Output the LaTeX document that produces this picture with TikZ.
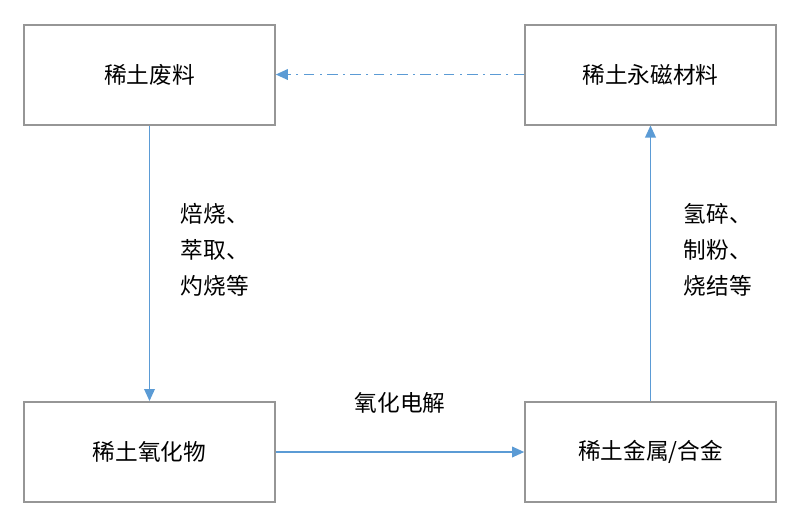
\documentclass[tikz,border=0pt]{standalone}
\usepackage{fontspec}
\setmainfont{Noto Sans CJK SC}
\usetikzlibrary{arrows.meta}
\definecolor{ln}{RGB}{91,155,213}
\definecolor{bx}{RGB}{150,150,150}
\begin{document}
\begin{tikzpicture}[x=0.75pt,y=-0.75pt,
 box/.style={draw=bx,line width=1.5pt,minimum width=188pt,minimum height=75pt,inner sep=0pt,font=\fontsize{17}{20}\selectfont},
 arr/.style={draw=ln,line width=1pt,-{Triangle[length=9pt,width=8pt]}},
 lab/.style={font=\fontsize{17}{27}\selectfont,align=left,anchor=west}]
\useasboundingbox (0,0) rectangle (804,526);
\node[box] (a) at (149.5,74.5) {稀土废料};
\node[box] (b) at (650.5,74.5) {稀土永磁材料};
\node[box] (c) at (149.5,452) {稀土氧化物};
\node[box] (d) at (650.5,452) {稀土金属/合金};
\draw[arr] (a) -- (c);
\draw[arr] (d) -- (b);
\draw[arr] (c) -- (d);
\draw[arr,dash pattern=on 8pt off 4pt on 1.5pt off 4pt] (b) -- (a);
\node[lab] (l1) at (176,250) {焙烧、\\萃取、\\灼烧等};
\node[lab] (l2) at (679,250) {氢碎、\\制粉、\\烧结等};
\node[font=\fontsize{17}{20}\selectfont] (l3) at (400,403) {氧化电解};
\end{tikzpicture}
\end{document}
